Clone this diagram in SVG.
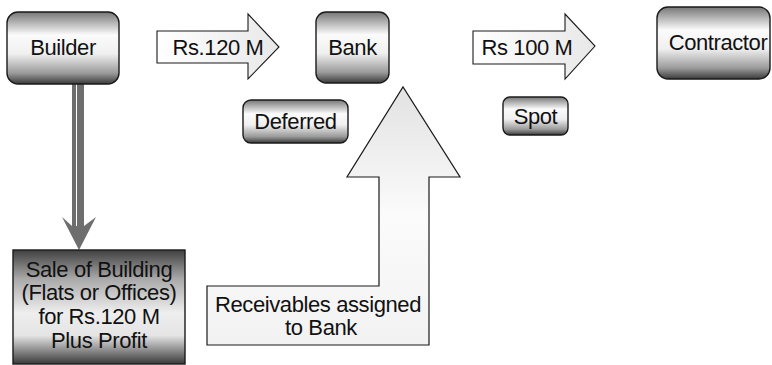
<svg xmlns="http://www.w3.org/2000/svg" width="772" height="365" viewBox="0 0 772 365">
<defs>
<linearGradient id="boxg" x1="0" y1="0" x2="0" y2="1">
<stop offset="0" stop-color="#777777"/>
<stop offset="0.32" stop-color="#fbfbfb"/>
<stop offset="0.58" stop-color="#f0f0f0"/>
<stop offset="0.85" stop-color="#9a9a9a"/>
<stop offset="1" stop-color="#3a3a3a"/>
</linearGradient>
<linearGradient id="saleg" x1="0" y1="0" x2="0" y2="1">
<stop offset="0" stop-color="#404040"/>
<stop offset="0.25" stop-color="#a8a8a8"/>
<stop offset="0.55" stop-color="#eeeeee"/>
<stop offset="0.75" stop-color="#e4e4e4"/>
<stop offset="1" stop-color="#3a3a3a"/>
</linearGradient>
<linearGradient id="arrg" x1="0" y1="0" x2="1" y2="0">
<stop offset="0" stop-color="#ffffff"/>
<stop offset="1" stop-color="#e8e8e8"/>
</linearGradient>
<linearGradient id="upg" x1="0" y1="0" x2="0" y2="1">
<stop offset="0" stop-color="#e2e2e2"/>
<stop offset="0.5" stop-color="#fbfbfb"/>
<stop offset="1" stop-color="#f2f2f2"/>
</linearGradient>
</defs>
<style>
.box{fill:url(#boxg);stroke:#1a1a1a;stroke-width:1.4}
.sale{fill:url(#saleg);stroke:#1a1a1a;stroke-width:1.4}
.arr{fill:url(#arrg);stroke:#1a1a1a;stroke-width:1.1;stroke-linejoin:miter}
.up{fill:url(#upg);stroke:#1a1a1a;stroke-width:1.2}
.gray{fill:#6e6e6e}
text{font-family:"Liberation Sans",Arial,sans-serif;font-size:22px;letter-spacing:-0.4px;fill:#111;text-anchor:middle}
</style>
<g id="connectors">
<g id="arrow-builder-sale">
<rect class="gray" x="72" y="84" width="4" height="142"/>
<rect class="gray" x="77" y="84" width="7" height="142"/>
<polygon class="gray" points="72,226 62,217 79,250 96,217 84,226"/>
</g>
<g id="arrow-rs120">
<polygon class="arr" points="157,31 248,31 248,14 279,47 248,79 248,63 157,63"/>
<text x="218" y="55">Rs.120 M</text>
</g>
<g id="arrow-rs100">
<polygon class="arr" points="473,31 565,31 565,14 595,46 565,79 565,64 473,64"/>
<text x="527" y="55">Rs 100 M</text>
</g>
<g id="arrow-receivables">
<polygon class="up" points="207,286 379,286 379,177 347,177 403,87 460,177 429,177 429,345 207,345"/>
<text x="318" y="312">Receivables assigned</text>
<text x="321" y="335">to Bank</text>
</g>
</g>
<g id="builder">
<rect class="box" x="7" y="12" width="112" height="72" rx="11"/>
<text x="63" y="55">Builder</text>
</g>
<g id="bank">
<rect class="box" x="316" y="12" width="73" height="71" rx="10"/>
<text x="352.5" y="55">Bank</text>
</g>
<g id="contractor">
<rect class="box" x="657" y="7" width="113" height="72" rx="11"/>
<text x="718" y="50">Contractor</text>
</g>
<g id="deferred">
<rect class="box" x="243" y="100" width="105" height="43" rx="8"/>
<text x="295.5" y="129">Deferred</text>
</g>
<g id="spot">
<rect class="box" x="503" y="97" width="65" height="38" rx="7"/>
<text x="535.5" y="124">Spot</text>
</g>
<g id="sale">
<rect class="sale" x="13" y="250" width="172" height="114"/>
<text x="99" y="277">Sale of Building</text>
<text x="99" y="300">(Flats or Offices)</text>
<text x="99" y="324">for Rs.120 M</text>
<text x="99" y="348">Plus Profit</text>
</g>
</svg>
